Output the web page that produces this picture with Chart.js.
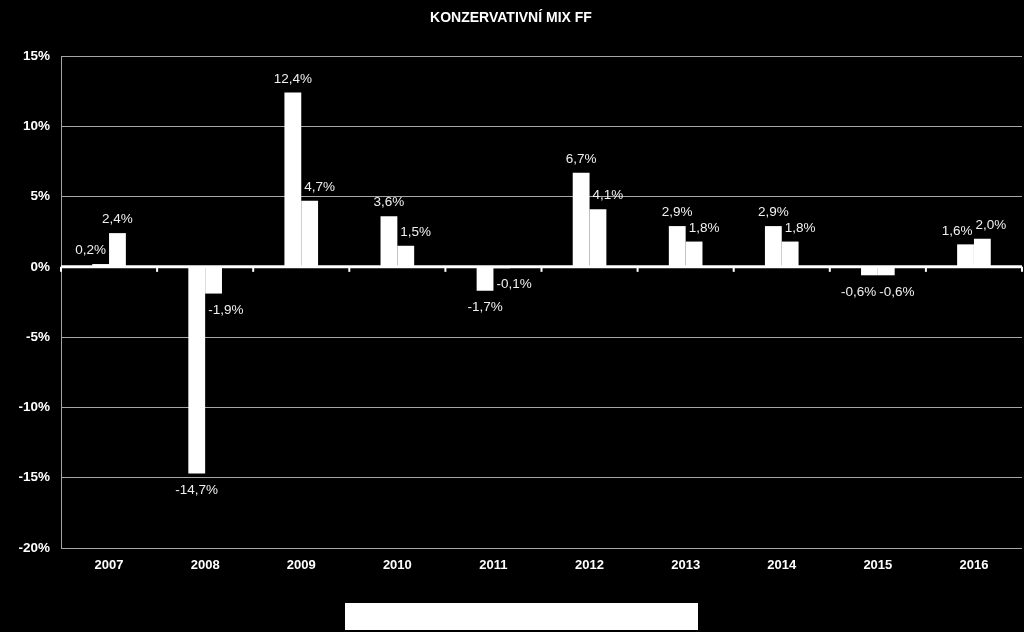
<!DOCTYPE html>
<html>
<head>
<meta charset="utf-8">
<script src="https://cdn.jsdelivr.net/npm/chart.js@4.4.0/dist/chart.umd.min.js"></script>
<style>
  html, body { margin: 0; padding: 0; background: #000; }
  #wrap { position: relative; width: 1024px; height: 632px; }
  #legendBox { position: absolute; left: 345px; top: 603px; width: 353px; height: 27px; background: #fff; }
</style>
</head>
<body>
<div id="wrap">
  <canvas id="chart" width="1024" height="632"></canvas>
  <div id="legendBox"></div>
</div>
<script>
const years = ['2007', '2008', '2009', '2010', '2011', '2012', '2013', '2014', '2015', '2016'];
const fundValues = [0.2, -14.7, 12.4, 3.6, -1.7, 6.7, 2.9, 2.9, -0.6, 1.6];
const benchValues = [2.4, -1.9, 4.7, 1.5, -0.1, 4.1, 1.8, 1.8, -0.6, 2.0];
const yMin = -20, yMax = 15, yStep = 5;

const fmt = v => v.toFixed(1).replace('.', ',') + '%';

const rectOf = bar => ({
  l: bar.x - bar.width / 2, r: bar.x + bar.width / 2,
  t: Math.min(bar.y, bar.base), b: Math.max(bar.y, bar.base)
});
const boxOf = it => ({ l: it.x - it.w / 2, r: it.x + it.w / 2, t: it.y - it.h / 2, b: it.y + it.h / 2 });
const hits = (p, q) => p.l < q.r && q.l < p.r && p.t < q.b && q.t < p.b;

// popisky hodnot nad / pod sloupci, odsunute aby nelezly do sousedniho sloupce
const valueLabels = {
  id: 'valueLabels',
  afterDatasetsDraw(chart) {
    const ctx = chart.ctx;
    const h = 15, gap = 3;
    ctx.save();
    ctx.font = '13.5px "Liberation Sans", Arial, sans-serif';
    ctx.fillStyle = '#f0f0f0';
    ctx.textAlign = 'center';
    ctx.textBaseline = 'middle';
    const m0 = chart.getDatasetMeta(0).data;
    const m1 = chart.getDatasetMeta(1).data;
    years.forEach((yr, j) => {
      const bars = [m0[j], m1[j]];
      const items = [fundValues[j], benchValues[j]].map((v, i) => {
        const bar = bars[i];
        const cy = v >= 0 ? bar.y - 6 - h / 2 : bar.y + 9 + h / 2;
        return { v, x: bar.x, y: cy, w: ctx.measureText(fmt(v)).width, h };
      });
      const a = items[0], b = items[1];
      const r0 = rectOf(bars[0]), r1 = rectOf(bars[1]);
      if (hits(boxOf(a), r1)) a.x = r1.l - gap - a.w / 2;
      if (hits(boxOf(b), r0)) b.x = r0.r + gap + b.w / 2;
      const ba = boxOf(a), bb = boxOf(b);
      if (hits(ba, bb)) {
        const push = (ba.r - bb.l + gap) / 2;
        a.x -= push;
        b.x += push;
      }
      items.forEach(it => ctx.fillText(fmt(it.v), it.x, it.y));
    });
    ctx.restore();
  }
};

// nulova osa s carkami mezi roky
const zeroAxis = {
  id: 'zeroAxis',
  afterDatasetsDraw(chart) {
    const ctx = chart.ctx;
    const y0 = chart.scales.y.getPixelForValue(0);
    ctx.save();
    ctx.strokeStyle = '#fff';
    ctx.lineWidth = 3;
    ctx.beginPath();
    ctx.moveTo(chart.chartArea.left, y0);
    ctx.lineTo(chart.chartArea.right, y0);
    ctx.stroke();
    ctx.lineWidth = 2;
    const w = (chart.chartArea.right - chart.chartArea.left) / years.length;
    for (let k = 0; k <= years.length; k++) {
      const px = chart.chartArea.left + k * w;
      ctx.beginPath();
      ctx.moveTo(px, y0);
      ctx.lineTo(px, y0 + 5);
      ctx.stroke();
    }
    ctx.restore();
  }
};

new Chart(document.getElementById('chart'), {
  type: 'bar',
  data: {
    labels: years,
    datasets: [
      { label: 'Fond', data: fundValues, backgroundColor: '#fff', borderWidth: 0, barPercentage: 1, categoryPercentage: 0.35 },
      { label: 'Benchmark', data: benchValues, backgroundColor: '#fff', borderWidth: 0, barPercentage: 1, categoryPercentage: 0.35 }
    ]
  },
  options: {
    responsive: false,
    animation: false,
    layout: { padding: { right: 2, bottom: 40 } },
    plugins: {
      legend: { display: false },
      tooltip: { enabled: false },
      title: {
        display: true,
        text: 'KONZERVATIVNÍ MIX FF',
        color: '#fff',
        font: { family: '"Liberation Sans", Arial, sans-serif', size: 14, weight: 'bold' },
        padding: { top: 10, bottom: 29.2 }
      }
    },
    scales: {
      x: {
        grid: { display: false },
        border: { display: false },
        ticks: {
          color: '#fff',
          padding: 2,
          font: { family: '"Liberation Sans", Arial, sans-serif', size: 13, weight: 'bold' }
        },
        afterFit(scale) { scale.height = 44; }
      },
      y: {
        min: yMin,
        max: yMax,
        grid: { color: '#a6a6a6', lineWidth: 1, drawTicks: false },
        border: { display: true, color: '#a6a6a6', width: 1 },
        ticks: {
          stepSize: yStep,
          color: '#fff',
          padding: 11,
          font: { family: '"Liberation Sans", Arial, sans-serif', size: 13.5, weight: 'bold' },
          callback: v => v + '%'
        },
        afterFit(scale) { scale.width = 61; }
      }
    }
  },
  plugins: [valueLabels, zeroAxis]
});
</script>
</body>
</html>
